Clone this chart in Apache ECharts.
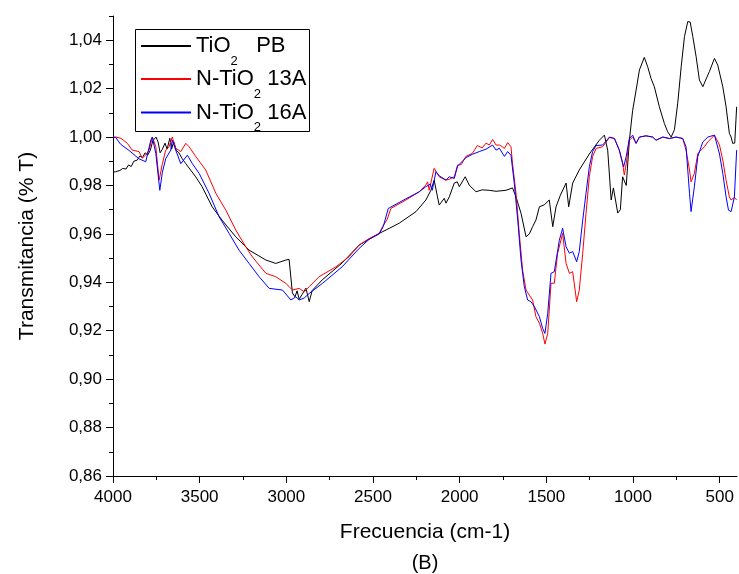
<!DOCTYPE html>
<html>
<head>
<meta charset="utf-8">
<script src="https://cdn.jsdelivr.net/npm/echarts@6/dist/echarts.min.js"></script>
<style>
  html, body { margin: 0; padding: 0; background: #fff; }
  #chart { width: 739px; height: 574px; }
</style>
</head>
<body>
<div id="chart"></div>
<script>
// espectros IR: [frecuencia cm-1, transmitancia]
const tio2PB = [
  [4000, 0.9855], [3984, 0.9857], [3960, 0.9862], [3945, 0.9870], [3925, 0.9868], [3910, 0.9885],
  [3895, 0.9878], [3880, 0.9900], [3860, 0.9905], [3845, 0.9922], [3830, 0.9915], [3815, 0.9935],
  [3800, 0.9925], [3785, 0.9945], [3770, 0.9985], [3752, 1.0000], [3740, 0.9980], [3728, 0.9935],
  [3715, 0.9950], [3700, 0.9975], [3688, 0.9950], [3672, 0.9995], [3662, 0.9950], [3650, 0.9980],
  [3635, 0.9945], [3620, 0.9935], [3600, 0.9910], [3580, 0.9890], [3523, 0.9836], [3486, 0.9795],
  [3428, 0.9712], [3371, 0.9657], [3292, 0.9588], [3215, 0.9533], [3118, 0.9492], [3061, 0.9478],
  [3003, 0.9492], [2984, 0.9495], [2965, 0.9356], [2950, 0.9340], [2938, 0.9365], [2926, 0.9330],
  [2909, 0.9350], [2887, 0.9376], [2868, 0.9320], [2851, 0.9366], [2793, 0.9410], [2678, 0.9480],
  [2580, 0.9554], [2464, 0.9602], [2349, 0.9644], [2252, 0.9692], [2195, 0.9740], [2166, 0.9780],
  [2147, 0.9822], [2128, 0.9753], [2118, 0.9719], [2089, 0.9747], [2079, 0.9727], [2060, 0.9753],
  [2031, 0.9810], [2014, 0.9815], [2002, 0.9795], [1968, 0.9836], [1945, 0.9802], [1906, 0.9774],
  [1870, 0.9782], [1829, 0.9780], [1790, 0.9776], [1733, 0.9780], [1695, 0.9790], [1675, 0.9753],
  [1646, 0.9685], [1617, 0.9588], [1598, 0.9600], [1579, 0.9630], [1560, 0.9657], [1540, 0.9712],
  [1512, 0.9720], [1483, 0.9740], [1463, 0.9630], [1444, 0.9712], [1419, 0.9760], [1386, 0.9810],
  [1371, 0.9712], [1348, 0.9810], [1310, 0.9864], [1252, 0.9930], [1194, 0.9987], [1165, 1.0008],
  [1146, 0.9946], [1126, 0.9740], [1113, 0.9790], [1088, 0.9686], [1073, 0.9700], [1060, 0.9836],
  [1039, 0.9800], [1021, 0.9987], [1002, 1.0110], [982, 1.0194], [963, 1.0277], [935, 1.0329],
  [915, 1.0290], [896, 1.0242], [877, 1.0208], [848, 1.0125], [819, 1.0056], [800, 1.0022],
  [780, 1.0000], [761, 1.0030], [742, 1.0140], [722, 1.0290], [703, 1.0415], [684, 1.0477],
  [670, 1.0475], [655, 1.0415], [636, 1.0333], [617, 1.0236], [597, 1.0208], [578, 1.0240],
  [559, 1.0271], [530, 1.0325], [511, 1.0297], [482, 1.0208], [463, 1.0125], [444, 1.0015],
  [434, 1.0000], [425, 0.9974], [413, 0.9975], [402, 1.0125]
];

const nTio13A = [
  [4000, 1.0000], [3984, 1.0000], [3954, 0.9995], [3917, 0.9974], [3889, 0.9946], [3850, 0.9940],
  [3831, 0.9913], [3811, 0.9926], [3792, 0.9946], [3773, 1.0000], [3753, 0.9960], [3734, 0.9822],
  [3715, 0.9890], [3696, 0.9946], [3677, 0.9960], [3658, 1.0000], [3638, 0.9954], [3609, 0.9940],
  [3580, 0.9974], [3561, 0.9960], [3523, 0.9920], [3465, 0.9864], [3407, 0.9768], [3349, 0.9698],
  [3292, 0.9616], [3234, 0.9547], [3196, 0.9505], [3118, 0.9437], [3061, 0.9423], [3003, 0.9396],
  [2965, 0.9368], [2926, 0.9375], [2897, 0.9361], [2868, 0.9382], [2811, 0.9423], [2714, 0.9464],
  [2637, 0.9506], [2580, 0.9554], [2522, 0.9581], [2464, 0.9602], [2445, 0.9630], [2418, 0.9660],
  [2397, 0.9705], [2310, 0.9740], [2233, 0.9774], [2195, 0.9802], [2185, 0.9815], [2176, 0.9780],
  [2147, 0.9871], [2118, 0.9836], [2079, 0.9822], [2060, 0.9826], [2031, 0.9836], [2012, 0.9884],
  [1991, 0.9886], [1964, 0.9920], [1926, 0.9933], [1898, 0.9965], [1887, 0.9967], [1870, 0.9955],
  [1848, 0.9975], [1829, 0.9967], [1810, 0.9990], [1790, 0.9967], [1771, 0.9967], [1754, 0.9960],
  [1742, 0.9953], [1723, 0.9977], [1704, 0.9960], [1695, 0.9890], [1675, 0.9768], [1656, 0.9602],
  [1637, 0.9450], [1617, 0.9368], [1598, 0.9347], [1579, 0.9327], [1560, 0.9258], [1540, 0.9231],
  [1521, 0.9189], [1508, 0.9145], [1492, 0.9189], [1473, 0.9396], [1463, 0.9403], [1454, 0.9396],
  [1435, 0.9520], [1406, 0.9602], [1386, 0.9478], [1367, 0.9437], [1348, 0.9444], [1325, 0.9320],
  [1310, 0.9368], [1290, 0.9520], [1271, 0.9685], [1252, 0.9836], [1233, 0.9920], [1213, 0.9953],
  [1175, 0.9960], [1136, 0.9998], [1107, 0.9994], [1079, 0.9946], [1060, 0.9890], [1050, 0.9843],
  [1039, 0.9890], [1021, 0.9987], [1002, 1.0000], [982, 0.9974], [963, 1.0000], [925, 1.0005],
  [886, 1.0000], [867, 0.9987], [828, 1.0000], [790, 0.9994], [751, 1.0000], [713, 0.9994],
  [694, 0.9946], [674, 0.9864], [665, 0.9815], [646, 0.9850], [626, 0.9932], [607, 0.9946],
  [588, 0.9960], [568, 0.9980], [549, 0.9994], [530, 1.0008], [501, 0.9967], [482, 0.9905],
  [463, 0.9822], [444, 0.9753], [434, 0.9740], [425, 0.9733], [415, 0.9750], [402, 0.9740]
];

const nTio16A = [
  [4000, 1.0000], [3984, 0.9998], [3956, 0.9970], [3908, 0.9945], [3850, 0.9910], [3811, 0.9898],
  [3782, 0.9987], [3773, 1.0000], [3753, 0.9932], [3730, 0.9780], [3715, 0.9855], [3696, 0.9910],
  [3667, 0.9946], [3658, 0.9987], [3638, 0.9946], [3609, 0.9890], [3571, 0.9925], [3542, 0.9890],
  [3503, 0.9850], [3446, 0.9768], [3388, 0.9671], [3330, 0.9602], [3273, 0.9533], [3215, 0.9478],
  [3157, 0.9423], [3099, 0.9375], [3022, 0.9368], [2974, 0.9327], [2945, 0.9340], [2926, 0.9327],
  [2897, 0.9335], [2868, 0.9354], [2791, 0.9396], [2678, 0.9464], [2580, 0.9540], [2522, 0.9578],
  [2464, 0.9600], [2441, 0.9630], [2412, 0.9705], [2310, 0.9745], [2233, 0.9774], [2195, 0.9795],
  [2170, 0.9805], [2158, 0.9780], [2137, 0.9857], [2118, 0.9840], [2079, 0.9822], [2060, 0.9836],
  [2031, 0.9829], [2012, 0.9880], [1964, 0.9915], [1926, 0.9929], [1887, 0.9940], [1848, 0.9950],
  [1810, 0.9967], [1790, 0.9946], [1771, 0.9954], [1742, 0.9920], [1723, 0.9940], [1704, 0.9925],
  [1685, 0.9809], [1665, 0.9657], [1646, 0.9492], [1627, 0.9382], [1608, 0.9327], [1589, 0.9320],
  [1569, 0.9300], [1540, 0.9258], [1521, 0.9209], [1508, 0.9189], [1492, 0.9272], [1473, 0.9437],
  [1454, 0.9444], [1425, 0.9574], [1406, 0.9623], [1386, 0.9547], [1367, 0.9520], [1348, 0.9527],
  [1325, 0.9485], [1310, 0.9527], [1290, 0.9657], [1271, 0.9768], [1252, 0.9877], [1233, 0.9940],
  [1213, 0.9965], [1175, 0.9967], [1136, 1.0000], [1107, 0.9994], [1079, 0.9946], [1054, 0.9877],
  [1039, 0.9920], [1021, 0.9994], [1002, 1.0008], [982, 0.9974], [963, 1.0000], [925, 1.0005],
  [886, 1.0000], [867, 0.9987], [828, 1.0000], [790, 0.9994], [751, 1.0000], [713, 0.9994],
  [694, 0.9960], [674, 0.9768], [665, 0.9692], [646, 0.9795], [626, 0.9920], [597, 0.9980],
  [568, 1.0000], [530, 1.0008], [501, 0.9930], [482, 0.9850], [463, 0.9753], [449, 0.9698],
  [434, 0.9692], [415, 0.9753], [402, 0.9946]
];

const seriesNames = ['TiO2 PB', 'N-TiO2 13A', 'N-TiO2 16A'];
const legendLabels = ['TiO{s|2}   PB', 'N-TiO{s|2} 13A', 'N-TiO{s|2} 16A'];
const seriesColors = ['#000000', '#ff0000', '#0000ff'];

const xTicks = [4000, 3500, 3000, 2500, 2000, 1500, 1000, 500];
const xMinorTicks = [3750, 3250, 2750, 2250, 1750, 1250, 750];
const yTicks = [0.86, 0.88, 0.90, 0.92, 0.94, 0.96, 0.98, 1.00, 1.02, 1.04];
const yMinorTicks = [0.87, 0.89, 0.91, 0.93, 0.95, 0.97, 0.99, 1.01, 1.03, 1.05];

const FONT = 'Liberation Sans, Arial, sans-serif';

const chart = echarts.init(document.getElementById('chart'));

const axisBase = {
    axisLine: { show: true, lineStyle: { color: '#000', width: 1 } },
    splitLine: { show: false }
};

const option = {
    animation: false,
    backgroundColor: '#fff',
    grid: { left: 113, right: 2, top: 16, bottom: 98 },
    xAxis: [
        Object.assign({}, axisBase, {
            type: 'value', min: 400, max: 4000, inverse: true,
            name: 'Frecuencia (cm-1)', nameLocation: 'middle', nameGap: 46,
            nameTextStyle: { fontFamily: FONT, fontSize: 21, color: '#000' },
            axisTick: { show: true, length: 7, customValues: xTicks, lineStyle: { color: '#000' } },
            axisLabel: {
                customValues: xTicks, margin: 13, fontFamily: FONT, fontSize: 17, color: '#000',
                formatter: v => String(v)
            }
        }),
        {
            type: 'value', min: 400, max: 4000, inverse: true, position: 'bottom',
            axisLine: { show: false }, splitLine: { show: false },
            axisTick: { show: true, length: 4, customValues: xMinorTicks, lineStyle: { color: '#000' } },
            axisLabel: { show: false }
        }
    ],
    yAxis: [
        Object.assign({}, axisBase, {
            type: 'value', min: 0.86, max: 1.05,
            name: 'Transmitancia (% T)', nameLocation: 'middle', nameGap: 75,
            nameTextStyle: { fontFamily: FONT, fontSize: 21, color: '#000' },
            axisTick: { show: true, length: 7, customValues: yTicks, lineStyle: { color: '#000' } },
            axisLabel: {
                customValues: yTicks, margin: 11, fontFamily: FONT, fontSize: 17, color: '#000',
                formatter: v => v.toFixed(2).replace('.', ',')
            }
        }),
        {
            type: 'value', min: 0.86, max: 1.05, position: 'left',
            axisLine: { show: false }, splitLine: { show: false },
            axisTick: { show: true, length: 4, customValues: yMinorTicks, lineStyle: { color: '#000' } },
            axisLabel: { show: false }
        }
    ],
    legend: seriesNames.map((n, i) => ({
        data: [n],
        orient: 'vertical',
        left: 140,
        top: [35, 68, 101.5][i],
        padding: 0,
        itemWidth: 50,
        itemHeight: 14,
        selectedMode: false,
        itemStyle: { color: 'transparent', borderColor: 'transparent', borderWidth: 0, opacity: 0 },
        formatter: () => legendLabels[i],
        textStyle: {
            fontFamily: FONT, fontSize: 22, color: '#000',
            rich: { s: { fontFamily: FONT, fontSize: 13, color: '#000', padding: [30, 0, 0, 0] } }
        }
    })),
    graphic: [
        {
            type: 'rect', shape: { x: 135.5, y: 29.5, width: 174, height: 102 },
            style: { fill: 'none', stroke: '#000', lineWidth: 1 }, silent: true
        },
        {
            type: 'text', x: 425, y: 563,
            style: { text: '(B)', font: '20px ' + FONT, fill: '#000', align: 'center', verticalAlign: 'middle' },
            silent: true
        }
    ],
    series: [tio2PB, nTio13A, nTio16A].map((d, i) => ({
        name: seriesNames[i],
        type: 'line',
        xAxisIndex: 0,
        yAxisIndex: 0,
        data: d,
        symbol: 'none',
        color: seriesColors[i],
        lineStyle: { width: 1, color: seriesColors[i] }
    }))
};

chart.setOption(option);
</script>
</body>
</html>
